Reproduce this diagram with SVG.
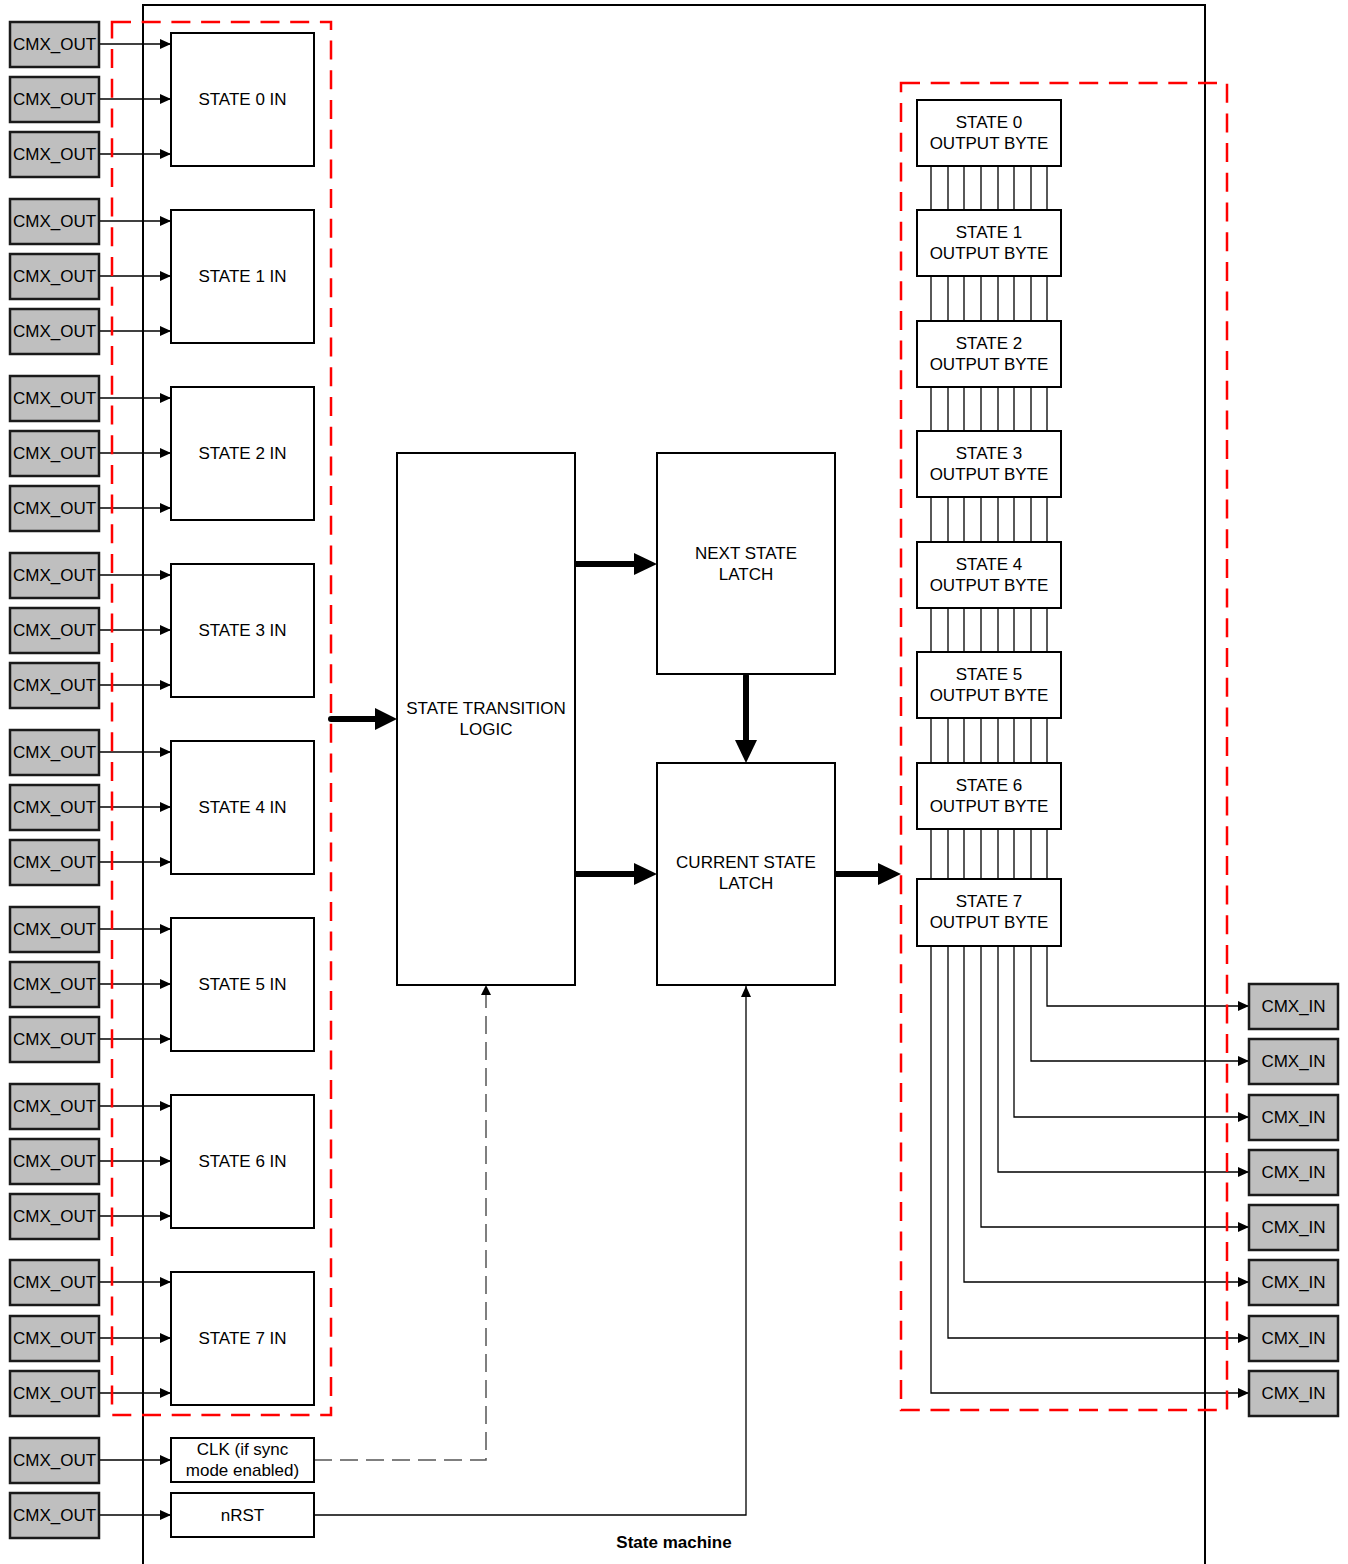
<svg xmlns="http://www.w3.org/2000/svg" width="1348" height="1564" viewBox="0 0 1348 1564">
<defs>
<style>
text{font-family:"Liberation Sans",Arial,sans-serif;font-size:17px;fill:#000;text-anchor:middle}
.cmx{fill:#BFBFBF;stroke:#1a1a1a;stroke-width:2.5}
.box{fill:#fff;stroke:#000;stroke-width:2}
.w{fill:none;stroke:#000;stroke-width:1.3}
.red{fill:none;stroke:#FF0000;stroke-width:2.5;stroke-dasharray:19 10.7}
.thick{fill:none;stroke:#000;stroke-width:6;stroke-linecap:round}
.head{fill:#000}
</style>
<marker id="a" markerUnits="userSpaceOnUse" markerWidth="11" markerHeight="10" refX="11" refY="5" orient="auto">
<path d="M0,0 L11,5 L0,10 z" fill="#000"/>
</marker>
</defs>
<rect x="143" y="5" width="1062" height="1620" fill="none" stroke="#000" stroke-width="2"/>
<g id="connectors">
<path class="w" marker-end="url(#a)" d="M99,44H171"/>
<path class="w" marker-end="url(#a)" d="M99,99H171"/>
<path class="w" marker-end="url(#a)" d="M99,154H171"/>
<path class="w" marker-end="url(#a)" d="M99,221H171"/>
<path class="w" marker-end="url(#a)" d="M99,276H171"/>
<path class="w" marker-end="url(#a)" d="M99,331H171"/>
<path class="w" marker-end="url(#a)" d="M99,398H171"/>
<path class="w" marker-end="url(#a)" d="M99,453H171"/>
<path class="w" marker-end="url(#a)" d="M99,508H171"/>
<path class="w" marker-end="url(#a)" d="M99,575H171"/>
<path class="w" marker-end="url(#a)" d="M99,630H171"/>
<path class="w" marker-end="url(#a)" d="M99,685H171"/>
<path class="w" marker-end="url(#a)" d="M99,752H171"/>
<path class="w" marker-end="url(#a)" d="M99,807H171"/>
<path class="w" marker-end="url(#a)" d="M99,862H171"/>
<path class="w" marker-end="url(#a)" d="M99,929H171"/>
<path class="w" marker-end="url(#a)" d="M99,984H171"/>
<path class="w" marker-end="url(#a)" d="M99,1039H171"/>
<path class="w" marker-end="url(#a)" d="M99,1106H171"/>
<path class="w" marker-end="url(#a)" d="M99,1161H171"/>
<path class="w" marker-end="url(#a)" d="M99,1216H171"/>
<path class="w" marker-end="url(#a)" d="M99,1282H171"/>
<path class="w" marker-end="url(#a)" d="M99,1338H171"/>
<path class="w" marker-end="url(#a)" d="M99,1393H171"/>
<path class="w" marker-end="url(#a)" d="M99,1460H171"/>
<path class="w" marker-end="url(#a)" d="M99,1515H171"/>
<path d="M314,1460H486V995" fill="none" stroke="#555" stroke-width="1.5" stroke-dasharray="18 8"/>
<path d="M481,995 L486,985 L491,995 z" fill="#000"/>
<path class="w" d="M314,1515H746V986" marker-end="url(#a)"/>
<path class="thick" d="M331,719H375"/><path class="head" d="M375,708 L397,719 L375,730 z"/>
<path class="thick" d="M575,564H635"/><path class="head" d="M634,553 L657,564 L634,575 z"/>
<path class="thick" d="M575,874H635"/><path class="head" d="M634,863 L657,874 L634,885 z"/>
<path class="thick" d="M835,874H879"/><path class="head" d="M878,863 L901,874 L878,885 z"/>
<path class="thick" d="M746,676V741"/><path class="head" d="M735,740 L746,763 L757,740 z"/>
<path class="w" d="M931,166V879M948,166V879M964,166V879M981,166V879M998,166V879M1014,166V879M1031,166V879M1047,166V879"/>
<path class="w" marker-end="url(#a)" d="M1047,946V1006H1249"/>
<path class="w" marker-end="url(#a)" d="M1031,946V1061H1249"/>
<path class="w" marker-end="url(#a)" d="M1014,946V1117H1249"/>
<path class="w" marker-end="url(#a)" d="M998,946V1172H1249"/>
<path class="w" marker-end="url(#a)" d="M981,946V1227H1249"/>
<path class="w" marker-end="url(#a)" d="M964,946V1282H1249"/>
<path class="w" marker-end="url(#a)" d="M948,946V1338H1249"/>
<path class="w" marker-end="url(#a)" d="M931,946V1393H1249"/>
</g>
<rect class="red" x="112" y="22" width="219" height="1393"/>
<rect class="red" x="901" y="83" width="326" height="1327"/>
<g id="cmx-out">
<rect class="cmx" x="10" y="22" width="89" height="45"/><text x="54.5" y="50">CMX_OUT</text>
<rect class="cmx" x="10" y="77" width="89" height="45"/><text x="54.5" y="105">CMX_OUT</text>
<rect class="cmx" x="10" y="132" width="89" height="45"/><text x="54.5" y="160">CMX_OUT</text>
<rect class="cmx" x="10" y="199" width="89" height="45"/><text x="54.5" y="227">CMX_OUT</text>
<rect class="cmx" x="10" y="254" width="89" height="45"/><text x="54.5" y="282">CMX_OUT</text>
<rect class="cmx" x="10" y="309" width="89" height="45"/><text x="54.5" y="337">CMX_OUT</text>
<rect class="cmx" x="10" y="376" width="89" height="45"/><text x="54.5" y="404">CMX_OUT</text>
<rect class="cmx" x="10" y="431" width="89" height="45"/><text x="54.5" y="459">CMX_OUT</text>
<rect class="cmx" x="10" y="486" width="89" height="45"/><text x="54.5" y="514">CMX_OUT</text>
<rect class="cmx" x="10" y="553" width="89" height="45"/><text x="54.5" y="581">CMX_OUT</text>
<rect class="cmx" x="10" y="608" width="89" height="45"/><text x="54.5" y="636">CMX_OUT</text>
<rect class="cmx" x="10" y="663" width="89" height="45"/><text x="54.5" y="691">CMX_OUT</text>
<rect class="cmx" x="10" y="730" width="89" height="45"/><text x="54.5" y="758">CMX_OUT</text>
<rect class="cmx" x="10" y="785" width="89" height="45"/><text x="54.5" y="813">CMX_OUT</text>
<rect class="cmx" x="10" y="840" width="89" height="45"/><text x="54.5" y="868">CMX_OUT</text>
<rect class="cmx" x="10" y="907" width="89" height="45"/><text x="54.5" y="935">CMX_OUT</text>
<rect class="cmx" x="10" y="962" width="89" height="45"/><text x="54.5" y="990">CMX_OUT</text>
<rect class="cmx" x="10" y="1017" width="89" height="45"/><text x="54.5" y="1045">CMX_OUT</text>
<rect class="cmx" x="10" y="1084" width="89" height="45"/><text x="54.5" y="1112">CMX_OUT</text>
<rect class="cmx" x="10" y="1139" width="89" height="45"/><text x="54.5" y="1167">CMX_OUT</text>
<rect class="cmx" x="10" y="1194" width="89" height="45"/><text x="54.5" y="1222">CMX_OUT</text>
<rect class="cmx" x="10" y="1260" width="89" height="45"/><text x="54.5" y="1288">CMX_OUT</text>
<rect class="cmx" x="10" y="1316" width="89" height="45"/><text x="54.5" y="1344">CMX_OUT</text>
<rect class="cmx" x="10" y="1371" width="89" height="45"/><text x="54.5" y="1399">CMX_OUT</text>
<rect class="cmx" x="10" y="1438" width="89" height="45"/><text x="54.5" y="1466">CMX_OUT</text>
<rect class="cmx" x="10" y="1493" width="89" height="45"/><text x="54.5" y="1521">CMX_OUT</text>
</g>
<g id="state-in">
<g id="s0in"><rect class="box" x="171" y="33" width="143" height="133"/><text x="242.5" y="105">STATE 0 IN</text></g>
<g id="s1in"><rect class="box" x="171" y="210" width="143" height="133"/><text x="242.5" y="282">STATE 1 IN</text></g>
<g id="s2in"><rect class="box" x="171" y="387" width="143" height="133"/><text x="242.5" y="459">STATE 2 IN</text></g>
<g id="s3in"><rect class="box" x="171" y="564" width="143" height="133"/><text x="242.5" y="636">STATE 3 IN</text></g>
<g id="s4in"><rect class="box" x="171" y="741" width="143" height="133"/><text x="242.5" y="813">STATE 4 IN</text></g>
<g id="s5in"><rect class="box" x="171" y="918" width="143" height="133"/><text x="242.5" y="990">STATE 5 IN</text></g>
<g id="s6in"><rect class="box" x="171" y="1095" width="143" height="133"/><text x="242.5" y="1167">STATE 6 IN</text></g>
<g id="s7in"><rect class="box" x="171" y="1272" width="143" height="133"/><text x="242.5" y="1344">STATE 7 IN</text></g>
</g>
<g id="clk"><rect class="box" x="171" y="1438" width="143" height="44"/><text x="242.5" y="1455">CLK (if sync</text><text x="242.5" y="1476">mode enabled)</text></g>
<g id="nrst"><rect class="box" x="171" y="1493" width="143" height="44"/><text x="242.5" y="1521">nRST</text></g>
<g id="stl"><rect class="box" x="397" y="453" width="178" height="532"/><text x="486" y="714">STATE TRANSITION</text><text x="486" y="735">LOGIC</text></g>
<g id="nsl"><rect class="box" x="657" y="453" width="178" height="221"/><text x="746" y="559">NEXT STATE</text><text x="746" y="580">LATCH</text></g>
<g id="csl"><rect class="box" x="657" y="763" width="178" height="222"/><text x="746" y="868">CURRENT STATE</text><text x="746" y="889">LATCH</text></g>
<g id="outbytes">
<g id="ob0"><rect class="box" x="917" y="100" width="144" height="66"/><text x="989" y="128">STATE 0</text><text x="989" y="149">OUTPUT BYTE</text></g>
<g id="ob1"><rect class="box" x="917" y="210" width="144" height="66"/><text x="989" y="238">STATE 1</text><text x="989" y="259">OUTPUT BYTE</text></g>
<g id="ob2"><rect class="box" x="917" y="321" width="144" height="66"/><text x="989" y="349">STATE 2</text><text x="989" y="370">OUTPUT BYTE</text></g>
<g id="ob3"><rect class="box" x="917" y="431" width="144" height="66"/><text x="989" y="459">STATE 3</text><text x="989" y="480">OUTPUT BYTE</text></g>
<g id="ob4"><rect class="box" x="917" y="542" width="144" height="66"/><text x="989" y="570">STATE 4</text><text x="989" y="591">OUTPUT BYTE</text></g>
<g id="ob5"><rect class="box" x="917" y="652" width="144" height="66"/><text x="989" y="680">STATE 5</text><text x="989" y="701">OUTPUT BYTE</text></g>
<g id="ob6"><rect class="box" x="917" y="763" width="144" height="66"/><text x="989" y="791">STATE 6</text><text x="989" y="812">OUTPUT BYTE</text></g>
<g id="ob7"><rect class="box" x="917" y="879" width="144" height="67"/><text x="989" y="907">STATE 7</text><text x="989" y="928">OUTPUT BYTE</text></g>
</g>
<g id="cmx-in">
<rect class="cmx" x="1249" y="984" width="89" height="45"/><text x="1293.5" y="1012">CMX_IN</text>
<rect class="cmx" x="1249" y="1039" width="89" height="45"/><text x="1293.5" y="1067">CMX_IN</text>
<rect class="cmx" x="1249" y="1095" width="89" height="45"/><text x="1293.5" y="1123">CMX_IN</text>
<rect class="cmx" x="1249" y="1150" width="89" height="45"/><text x="1293.5" y="1178">CMX_IN</text>
<rect class="cmx" x="1249" y="1205" width="89" height="45"/><text x="1293.5" y="1233">CMX_IN</text>
<rect class="cmx" x="1249" y="1260" width="89" height="45"/><text x="1293.5" y="1288">CMX_IN</text>
<rect class="cmx" x="1249" y="1316" width="89" height="45"/><text x="1293.5" y="1344">CMX_IN</text>
<rect class="cmx" x="1249" y="1371" width="89" height="45"/><text x="1293.5" y="1399">CMX_IN</text>
</g>
<text x="674" y="1548" style="font-weight:bold;font-size:17px">State machine</text>
</svg>
